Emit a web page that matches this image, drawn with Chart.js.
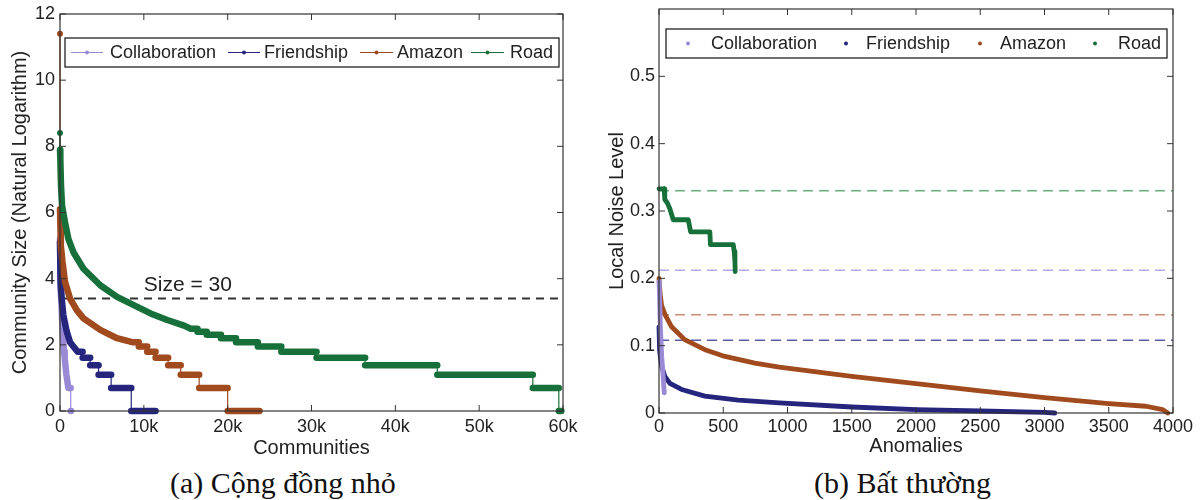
<!DOCTYPE html>
<html>
<head>
<meta charset="utf-8">
<script src="https://cdn.jsdelivr.net/npm/chart.js@4.4.1/dist/chart.umd.min.js"></script>
<style>
  body { margin: 0; background: #fff; width: 1204px; height: 500px; overflow: hidden; position: relative; }
  canvas { position: absolute; top: 0; }
  #commChart { left: 0; }
  #noiseChart { left: 600px; }
  .caption {
    position: absolute; top: 466px; white-space: nowrap; color: #111;
    font-family: "Liberation Serif", "Times New Roman", serif; font-size: 30px; line-height: 34px;
  }
</style>
</head>
<body>
<canvas id="commChart" width="600" height="465"></canvas>
<canvas id="noiseChart" width="604" height="465"></canvas>
<div class="caption" style="left:170px">(a) Cộng đồng nhỏ</div>
<div class="caption" style="left:814px">(b) Bất thường</div>
<script>
const seriesNames = ["Collaboration", "Friendship", "Amazon", "Road"];
const seriesColors = ["#9a8ad6", "#25257e", "#a04a1e", "#17703a"];
const thresholdColors = ["#b3a5e3", "#5a5aa5", "#c98c6e", "#6eaf82"];

// (a) community index (sorted) vs ln(community size)
const collabCommX = [0, 40, 100, 180, 260, 340, 420, 480, 560, 640, 760, 1000, 1280, 1280, 1320];
const collabCommY = [5.2, 4.3, 3.7, 3.2, 2.7, 2.3, 2.0, 1.79, 1.61, 1.39, 1.1, 0.693, 0.693, 0, 0];
const friendCommX = [0, 50, 100, 200, 400, 800, 1200, 1600, 2100, 2700, 2700, 3600, 3600, 4600, 4600, 6100, 6100, 8500, 8500, 11400];
const friendCommY = [5.1, 4.5, 3.9, 3.4, 2.9, 2.4, 2.08, 1.95, 1.792, 1.792, 1.609, 1.609, 1.386, 1.386, 1.099, 1.099, 0.693, 0.693, 0, 0];
const amazonCommX = [0, 0, 100, 300, 600, 1200, 2000, 2800, 4800, 6800, 8600, 9400, 9400, 10400, 10400, 11400, 11400, 12900, 12900, 14400, 14400, 16600, 16600, 20000, 20000, 23800];
const amazonCommY = [11.4, 6.1, 5.0, 4.5, 3.9, 3.4, 3.05, 2.8, 2.45, 2.2, 2.079, 2.079, 1.946, 1.946, 1.792, 1.792, 1.609, 1.609, 1.386, 1.386, 1.099, 1.099, 0.693, 0.693, 0, 0];
const roadCommX = [0, 0, 40, 120, 250, 600, 1000, 1600, 2800, 4800, 6800, 8800, 10800, 12800, 14800, 15600, 16400, 16400, 17500, 17500, 19200, 19200, 21000, 21000, 23600, 23600, 26400, 26400, 30600, 30600, 36400, 36400, 45000, 45000, 56400, 56400, 59500, 59500, 59800];
const roadCommY = [8.4, 7.9, 7.6, 6.8, 6.2, 5.7, 5.2, 4.8, 4.3, 3.8, 3.45, 3.2, 2.95, 2.75, 2.58, 2.485, 2.485, 2.398, 2.398, 2.303, 2.303, 2.197, 2.197, 2.079, 2.079, 1.946, 1.946, 1.792, 1.792, 1.609, 1.609, 1.386, 1.386, 1.099, 1.099, 0.693, 0.693, 0, 0];
const sizeLimit = 30;
const commTickLabels = ["0", "10k", "20k", "30k", "40k", "50k", "60k"];

// (b) anomaly index (sorted) vs local noise level
const collabNoiseX = [0, 3, 10, 21, 34, 41];
const collabNoiseY = [0.195, 0.183, 0.133, 0.084, 0.049, 0.03];
const friendNoiseX = [0, 3, 6, 10, 21, 47, 85, 176, 357, 617, 936, 1500, 2000, 2500, 3000, 3080];
const friendNoiseY = [0.128, 0.114, 0.094, 0.084, 0.069, 0.054, 0.044, 0.035, 0.025, 0.019, 0.0149, 0.0089, 0.005, 0.003, 0.001, 0.0];
const amazonNoiseX = [0, 8, 20, 47, 98, 200, 357, 513, 746, 936, 1500, 2000, 2500, 3000, 3500, 3790, 3920, 3960];
const amazonNoiseY = [0.2, 0.178, 0.16, 0.146, 0.128, 0.109, 0.094, 0.084, 0.074, 0.068, 0.0545, 0.0437, 0.0327, 0.0228, 0.014, 0.01, 0.005, 0.0];
const roadNoiseX = [0, 40, 45, 65, 85, 111, 228, 246, 396, 400, 578, 585, 591, 593];
const roadNoiseY = [0.333, 0.333, 0.317, 0.312, 0.303, 0.287, 0.287, 0.269, 0.269, 0.25, 0.25, 0.24, 0.225, 0.21];
const noiseThresholds = [0.212, 0.108, 0.146, 0.33];

const FONT = '"Liberation Sans", Arial, sans-serif';
const TEXT = "#222";

const pts = (xs, ys) => xs.map((x, i) => ({ x: x, y: ys[i] }));

// box round the plot with matlab style inward ticks
const framePlugin = {
  id: "frame",
  afterDraw(chart) {
    const { ctx, chartArea: a, scales } = chart;
    ctx.save();
    ctx.strokeStyle = "#333";
    ctx.lineWidth = 1.2;
    ctx.strokeRect(a.left, a.top, a.right - a.left, a.bottom - a.top);
    ctx.lineWidth = 1;
    ctx.beginPath();
    scales.x.ticks.forEach((t) => {
      const px = scales.x.getPixelForValue(t.value);
      ctx.moveTo(px, a.bottom); ctx.lineTo(px, a.bottom - 6);
      ctx.moveTo(px, a.top); ctx.lineTo(px, a.top + 6);
    });
    scales.y.ticks.forEach((t) => {
      const py = scales.y.getPixelForValue(t.value);
      ctx.moveTo(a.left, py); ctx.lineTo(a.left + 6, py);
      ctx.moveTo(a.right, py); ctx.lineTo(a.right - 6, py);
    });
    ctx.stroke();
    ctx.restore();
  },
};

const boxLegendPlugin = {
  id: "boxLegend",
  afterDraw(chart, args, opts) {
    if (!opts.box) return;
    const { ctx } = chart;
    const [bx, by, bw, bh] = opts.box;
    const cy = by + bh / 2;
    ctx.save();
    ctx.fillStyle = "#fff";
    ctx.fillRect(bx, by, bw, bh);
    ctx.strokeStyle = "#222";
    ctx.lineWidth = 1.3;
    ctx.strokeRect(bx, by, bw, bh);
    ctx.font = "18px " + FONT;
    ctx.textBaseline = "middle";
    opts.items.forEach((it, i) => {
      ctx.strokeStyle = seriesColors[i];
      ctx.fillStyle = seriesColors[i];
      let dotX = it.dot;
      if (it.line) {
        ctx.lineWidth = 1;
        ctx.beginPath();
        ctx.moveTo(it.line[0], cy);
        ctx.lineTo(it.line[1], cy);
        ctx.stroke();
        dotX = (it.line[0] + it.line[1]) / 2;
      }
      ctx.beginPath();
      ctx.arc(dotX, cy, 2, 0, Math.PI * 2);
      ctx.fill();
      ctx.fillStyle = TEXT;
      ctx.fillText(seriesNames[i], it.text, cy + 1);
    });
    ctx.restore();
  },
};

const sizeLabelPlugin = {
  id: "sizeLabel",
  afterDatasetsDraw(chart) {
    const { ctx, scales } = chart;
    ctx.save();
    ctx.font = "21px " + FONT;
    ctx.fillStyle = TEXT;
    ctx.textBaseline = "alphabetic";
    ctx.fillText("Size = " + sizeLimit, scales.x.getPixelForValue(10000), scales.y.getPixelForValue(Math.log(sizeLimit)) - 7);
    ctx.restore();
  },
};

function axisOpts(min, max, step, title, titlePad, tickPad, fitSize, isX, cb) {
  return {
    type: "linear",
    min: min,
    max: max,
    grid: { display: false, drawTicks: false },
    border: { display: false },
    ticks: { stepSize: step, padding: tickPad, color: TEXT, font: { family: FONT, size: 18 }, callback: cb, maxRotation: 0, autoSkip: false },
    title: { display: true, text: title, color: TEXT, font: { family: FONT, size: 20 }, padding: titlePad },
    afterFit: (s) => {
      if (isX) s.height = fitSize; else s.width = fitSize;
      // let layout.padding alone decide where the plot box sits
      s.paddingTop = 0; s.paddingBottom = 0; s.paddingLeft = 0; s.paddingRight = 0;
    },
  };
}

function commSet(i, xs, ys, order) {
  return {
    label: seriesNames[i],
    data: pts(xs, ys),
    showLine: true,
    borderColor: seriesColors[i],
    backgroundColor: seriesColors[i],
    borderWidth: 6.5,
    borderCapStyle: "round",
    borderJoinStyle: "round",
    pointRadius: (c) => (c.dataIndex === 0 ? 3 : 0),
    pointBorderWidth: 0,
    clip: false,
    order: order,
    segment: { borderWidth: (c) => (c.p0.parsed.x === c.p1.parsed.x ? 1.2 : 6.5) },
  };
}

function noiseSet(i, xs, ys, order) {
  return {
    label: seriesNames[i],
    data: pts(xs, ys),
    showLine: true,
    borderColor: seriesColors[i],
    backgroundColor: seriesColors[i],
    borderWidth: 4.8,
    borderCapStyle: "round",
    borderJoinStyle: "round",
    pointRadius: 0,
    clip: false,
    order: order,
  };
}

function levelSet(y, x0, x1, color, width, dash) {
  return {
    data: [{ x: x0, y: y }, { x: x1, y: y }],
    showLine: true,
    borderColor: color,
    borderWidth: width,
    borderDash: dash,
    pointRadius: 0,
    order: 10,
  };
}

const common = {
  responsive: false,
  animation: false,
  events: [],
  plugins: { legend: { display: false }, tooltip: { enabled: false } },
};

new Chart(document.getElementById("commChart"), {
  type: "scatter",
  data: {
    datasets: [
      levelSet(Math.log(sizeLimit), 0, 60000, "#333", 2, [8, 6]),
      commSet(0, collabCommX, collabCommY, 3),
      commSet(1, friendCommX, friendCommY, 2),
      commSet(2, amazonCommX, amazonCommY, 1),
      commSet(3, roadCommX, roadCommY, 0),
    ],
  },
  options: {
    ...common,
    layout: { padding: { left: 0, right: 37, top: 14, bottom: 0 } },
    plugins: {
      ...common.plugins,
      boxLegend: {
        box: [65, 38, 494, 29],
        items: [
          { line: [71, 103], text: 110 },
          { line: [228, 260], text: 264 },
          { line: [360, 393], text: 397 },
          { line: [471, 504], text: 510 },
        ],
      },
    },
    scales: {
      x: axisOpts(0, 60000, 10000, "Communities", { bottom: 5 }, 5, 54, true, (v, idx) => commTickLabels[idx]),
      y: axisOpts(0, 12, 2, "Community Size (Natural Logarithm)", { top: 8 }, 5, 60, false),
    },
  },
  plugins: [framePlugin, boxLegendPlugin, sizeLabelPlugin],
});

new Chart(document.getElementById("noiseChart"), {
  type: "scatter",
  data: {
    datasets: [
      ...noiseThresholds.map((t, i) => levelSet(t, 0, 4000, thresholdColors[i], 1.5, [10, 6])),
      noiseSet(0, collabNoiseX, collabNoiseY, 0),
      noiseSet(1, friendNoiseX, friendNoiseY, 3),
      noiseSet(2, amazonNoiseX, amazonNoiseY, 2),
      noiseSet(3, roadNoiseX, roadNoiseY, 1),
    ],
  },
  options: {
    ...common,
    layout: { padding: { left: 0, right: 31, top: 9, bottom: 0 } },
    plugins: {
      ...common.plugins,
      boxLegend: {
        box: [66, 29, 501, 29],
        items: [
          { dot: 88, text: 111 },
          { dot: 246, text: 266 },
          { dot: 380, text: 400 },
          { dot: 495, text: 518 },
        ],
      },
    },
    scales: {
      x: axisOpts(0, 4000, 500, "Anomalies", { bottom: 7 }, 3, 52, true),
      y: axisOpts(0, 0.6, 0.1, "Local Noise Level", { top: 5 }, 4, 59, false, (v) => (v > 0.55 ? null : +v.toFixed(1))),
    },
  },
  plugins: [framePlugin, boxLegendPlugin],
});
</script>
</body>
</html>
